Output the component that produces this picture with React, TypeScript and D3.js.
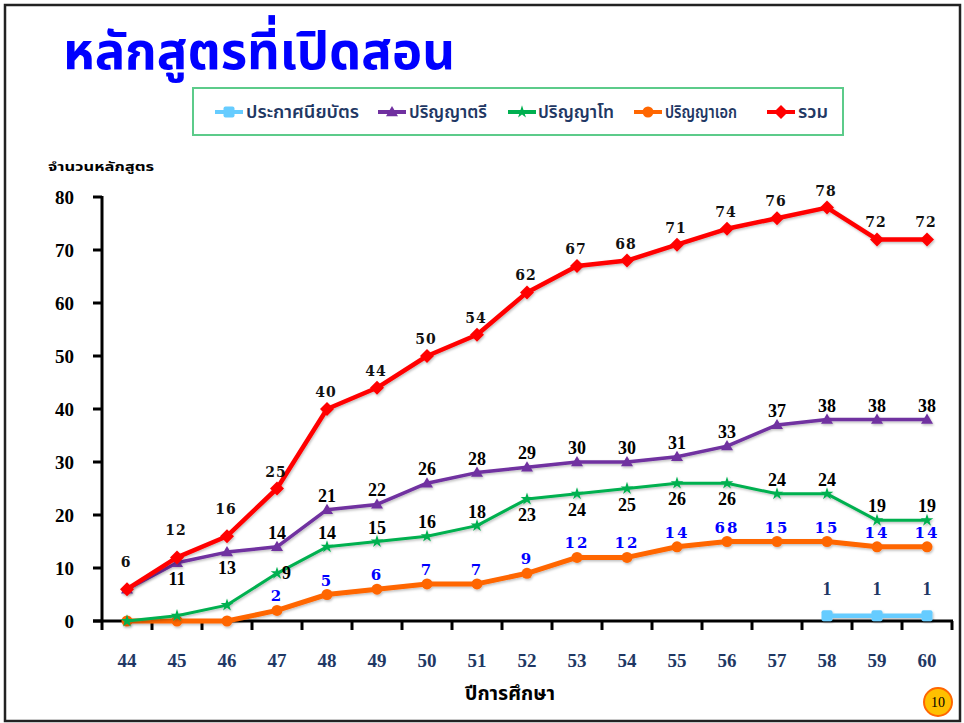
import React from "react";
import * as d3 from "d3";

const years = ["44","45","46","47","48","49","50","51","52","53","54","55","56","57","58","59","60"];
const yTicks = [0,10,20,30,40,50,60,70,80];

const diploma: (number|null)[] = [null,null,null,null,null,null,null,null,null,null,null,null,null,null,1,1,1];
const bachelor = [6,11,13,14,21,22,26,28,29,30,30,31,33,37,38,38,38];
const master = [0,1,3,9,14,15,16,18,23,24,25,26,26,24,24,19,19];
const doctorate = [0,0,0,2,5,6,7,7,9,12,12,14,15,15,15,14,14];
const total = [6,12,16,25,40,44,50,54,62,67,68,71,74,76,78,72,72];

const doctorateLabels = ["","","","2","5","6","7","7","9","12","12","14","68","15","15","14","14"];
const diplomaLabels = ["","","","","","","","","","","","","","","1","1","1"];
const bachelorLabels = ["","11","13","14","21","22","26","28","29","30","30","31","33","37","38","38","38"];
const masterLabels = ["","","","9","14","15","16","18","23","24","25","26","26","24","24","19","19"];
const totalLabels = total.map(String);

// label placement: "a" above, "b" below, "r" right
const bachelorPos = ["a","b","b","a","a","a","a","a","a","a","a","a","a","a","a","a","a"];
const masterPos = ["a","a","a","r","a","a","a","a","b","b","b","b","b","a","a","a","a"];

const seriesNames = ["ประกาศนียบัตร","ปริญญาตรี","ปริญญาโท","ปริญญาเอก","รวม"];

const W = 964, H = 723;
const x = d3.scaleBand<string>().domain(years).range([102, 952]).padding(0);
const y = d3.scaleLinear().domain([0, 80]).range([621, 197]);
const cx = (i: number) => (x(years[i]) as number) + x.bandwidth() / 2;

const THAI = "'Noto Sans Thai','Noto Serif Thai','Loma','Garuda','Tlwg Typo',sans-serif";
const SERIF = "'Liberation Serif','Times New Roman',serif";

function Marker({ kind, px, py, color }: { kind: string; px: number; py: number; color: string }) {
  if (kind === "diamond") {
    const s = 7;
    return <path d={`M${px},${py - s}L${px + s},${py}L${px},${py + s}L${px - s},${py}Z`} fill={color} />;
  }
  if (kind === "triangle") {
    const s = 6;
    return <path d={`M${px},${py - s}L${px + s},${py + s * 0.7}L${px - s},${py + s * 0.7}Z`} fill={color} />;
  }
  if (kind === "star") {
    return <path d={d3.symbol().type(d3.symbolStar).size(50)() as string} transform={`translate(${px},${py})`} fill={color} />;
  }
  if (kind === "circle") {
    return <circle cx={px} cy={py} r={5.5} fill={color} />;
  }
  return <rect x={px - 5.5} y={py - 5.5} width={11} height={11} rx={2} fill={color} />;
}

function Series({ values, color, width, kind }: { values: (number|null)[]; color: string; width: number; kind: string }) {
  const line = d3.line<number|null>()
    .defined((d) => d !== null)
    .x((_, i) => cx(i))
    .y((d) => y(d as number));
  return (
    <g filter="url(#shadow)">
      <path d={line(values) as string} fill="none" stroke={color} strokeWidth={width} strokeLinejoin="round" />
      {values.map((v, i) => v === null ? null : <Marker key={i} kind={kind} px={cx(i)} py={y(v)} color={color} />)}
    </g>
  );
}

export default function App() {
  const legendItems = [
    { name: seriesNames[0], color: "#66CCFF", kind: "square", lx: 215, tx: 246, tw: 113 },
    { name: seriesNames[1], color: "#7030A0", kind: "triangle", lx: 378, tx: 409, tw: 78 },
    { name: seriesNames[2], color: "#00B050", kind: "star", lx: 508, tx: 538, tw: 76 },
    { name: seriesNames[3], color: "#FF6600", kind: "circle", lx: 634, tx: 665, tw: 72 },
    { name: seriesNames[4], color: "#FF0000", kind: "diamond", lx: 767, tx: 798, tw: 30 },
  ];
  const lab = (p: string) => (p === "b" ? 22 : p === "r" ? 6 : -8);
  return (
    <svg width={W} height={H} style={{ position: "absolute", left: 0, top: 0, background: "#fff" }}>
      <defs>
        <filter id="shadow" x="-10%" y="-10%" width="120%" height="130%">
          <feDropShadow dx="1" dy="1.5" stdDeviation="1" floodColor="#000" floodOpacity="0.25" />
        </filter>
      </defs>
      <rect x={0} y={0} width={W} height={H} fill="#fff" />
      <rect x={5} y={5} width={955} height={716} fill="none" stroke="#222" strokeWidth={2.5} />

      <text x={63} y={69} fill="#0000FF" fontFamily={THAI} fontWeight={700} fontSize={52} textLength={392} lengthAdjust="spacingAndGlyphs">หลักสูตรที่เปิดสอน</text>

      {/* legend */}
      <rect x={193} y={88} width={650} height={47} fill="#fff" stroke="#5CCB8A" strokeWidth={2} />
      {legendItems.map((it) => (
        <g key={it.name}>
          <line x1={it.lx} x2={it.lx + 28} y1={112} y2={112} stroke={it.color} strokeWidth={4} />
          <Marker kind={it.kind} px={it.lx + 14} py={112} color={it.color} />
          <text x={it.tx} y={118} fill="#1F3864" fontFamily={THAI} fontWeight={600} fontSize={17} textLength={it.tw} lengthAdjust="spacingAndGlyphs">{it.name}</text>
        </g>
      ))}

      {/* y axis title */}
      <text x={48} y={171} fill="#000" fontFamily={THAI} fontWeight={700} fontSize={13} textLength={106} lengthAdjust="spacingAndGlyphs">จำนวนหลักสูตร</text>

      {/* y axis */}
      <line x1={102} x2={102} y1={y(80) - 1} y2={y(0)} stroke="#000" strokeWidth={3} />
      {yTicks.map((t) => (
        <g key={t}>
          <line x1={93} x2={102} y1={y(t)} y2={y(t)} stroke="#000" strokeWidth={3} />
          <text x={74} y={y(t) + 6.5} textAnchor="end" fontFamily={SERIF} fontWeight={700} fontSize={19} fill="#000">{t}</text>
        </g>
      ))}

      {/* x axis */}
      <line x1={93} x2={953} y1={y(0)} y2={y(0)} stroke="#000" strokeWidth={3} />
      {years.map((yr) => (
        <line key={"t" + yr} x1={x(yr) as number} x2={x(yr) as number} y1={y(0)} y2={y(0) + 9} stroke="#000" strokeWidth={3} />
      ))}
      <line x1={952} x2={952} y1={y(0)} y2={y(0) + 9} stroke="#000" strokeWidth={3} />
      {years.map((yr, i) => (
        <text key={"l" + yr} x={cx(i)} y={667} textAnchor="middle" fontFamily={SERIF} fontWeight={700} fontSize={19} fill="#1F3864">{yr}</text>
      ))}
      <text x={510} y={700} textAnchor="middle" fill="#000" fontFamily={THAI} fontWeight={700} fontSize={19} textLength={90} lengthAdjust="spacingAndGlyphs">ปีการศึกษา</text>

      {/* series */}
      <Series values={doctorate} color="#FF6600" width={5} kind="circle" />
      <Series values={master} color="#00B050" width={3} kind="star" />
      <Series values={bachelor} color="#7030A0" width={3.5} kind="triangle" />
      <Series values={total} color="#FF0000" width={4.5} kind="diamond" />
      <Series values={diploma} color="#66CCFF" width={4.5} kind="square" />

      {/* labels */}
      {totalLabels.map((l, i) => (
        <text key={"tl" + i} x={cx(i) - 1} y={y(total[i]) - (i < 3 ? 22 : 12)} textAnchor="middle" fontFamily="'DejaVu Serif',serif" fontWeight={700} fontSize={14} letterSpacing={1} fill="#111">{l}</text>
      ))}
      {bachelorLabels.map((l, i) => l && (
        <text key={"bl" + i} x={cx(i) + (bachelorPos[i] === "r" ? 12 : 0)} y={y(bachelor[i]) + lab(bachelorPos[i])} textAnchor={bachelorPos[i] === "r" ? "start" : "middle"} fontFamily={SERIF} fontWeight={700} fontSize={18} fill="#000">{l}</text>
      ))}
      {masterLabels.map((l, i) => l && (
        <text key={"ml" + i} x={cx(i) + (masterPos[i] === "r" ? 5 : 0)} y={y(master[i]) + lab(masterPos[i])} textAnchor={masterPos[i] === "r" ? "start" : "middle"} fontFamily={SERIF} fontWeight={700} fontSize={18} fill="#000">{l}</text>
      ))}
      {doctorateLabels.map((l, i) => l && (
        <text key={"dl" + i} x={cx(i)} y={y(doctorate[i]) - 9} textAnchor="middle" fontFamily="'DejaVu Serif',serif" fontWeight={700} fontSize={15} letterSpacing={2} fill="#0000FF">{l}</text>
      ))}
      {diplomaLabels.map((l, i) => l && (
        <text key={"pl" + i} x={cx(i)} y={y(diploma[i] as number) - 21} textAnchor="middle" fontFamily={SERIF} fontWeight={700} fontSize={18} fill="#1F3864">{l}</text>
      ))}

      {/* page number */}
      <circle cx={938} cy={702} r={14} fill="#FFC000" stroke="#FF6600" strokeWidth={2} />
      <text x={938} y={707} textAnchor="middle" fontFamily={SERIF} fontSize={14} fill="#000">10</text>
    </svg>
  );
}
